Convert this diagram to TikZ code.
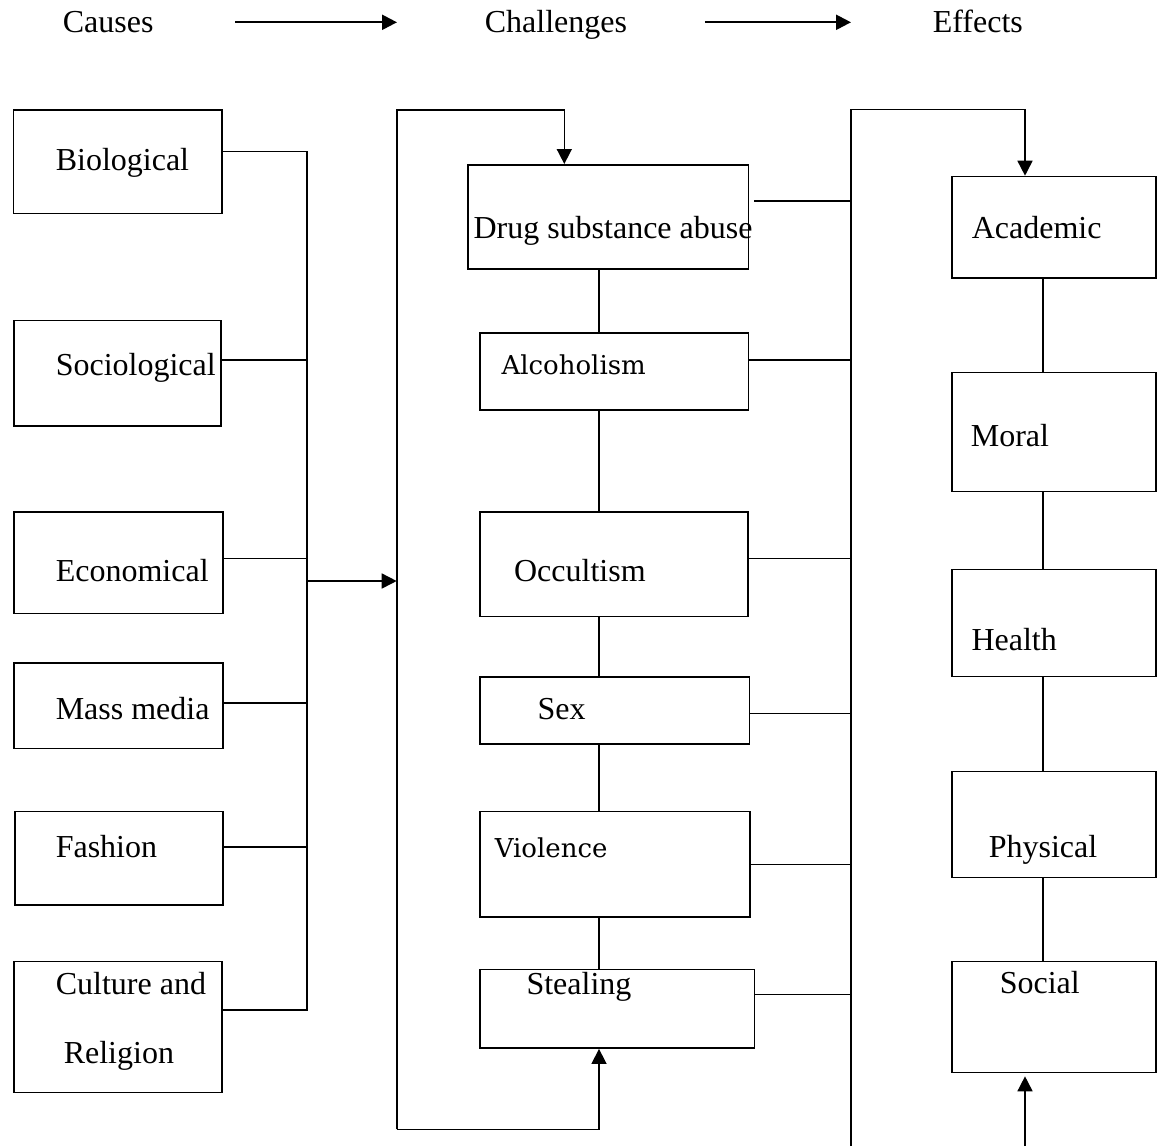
\documentclass[tikz,border=0pt]{standalone}
\usepackage{fontspec}
\setmainfont{Liberation Serif}
\newfontfamily\altserif{DejaVu Serif}
\usetikzlibrary{arrows.meta,positioning}

\begin{document}
\begin{tikzpicture}[x=1pt,y=-1pt,line width=1.6pt,
    box/.style={draw,rectangle,anchor=north west,inner sep=0pt},
    lbl/.style={anchor=base west,inner sep=0pt,font=\fontsize{32}{38}\selectfont},
    altlbl/.style={anchor=base west,inner sep=0pt,font=\altserif\fontsize{26}{31}\selectfont},
    arr/.style={-{Triangle[length=15pt,width=15pt]}}]
\useasboundingbox (0,0) rectangle (1158,1146);

% headings
\node[lbl] (causes) at (62,32) {Causes};
\node[lbl] (challenges) at (484,32) {Challenges};
\node[lbl] (effects) at (932,32) {Effects};
\draw[arr,line width=2.2pt,shorten <=81pt,shorten >=87pt] (causes.east |- 0,22.3) -- (challenges.west |- 0,22.3);
\draw[arr,line width=2.2pt,shorten <=77pt,shorten >=81pt] (challenges.east |- 0,22.3) -- (effects.west |- 0,22.3);

% causes
\node[box,minimum width=208.3pt,minimum height=103.7pt] (bio) at (12.7,109) {};
\node[lbl] (t_bio) at (55,170) {Biological};
\node[box,minimum width=207pt,minimum height=105.3pt] (socio) at (13,319.7) {};
\node[lbl] (t_socio) at (55,375) {Sociological};
\node[box,minimum width=209pt,minimum height=101.4pt] (econ) at (13.3,511.3) {};
\node[lbl] (t_econ) at (55,581.7) {Economical};
\node[box,minimum width=209pt,minimum height=85.7pt] (media) at (13.3,662) {};
\node[lbl] (t_media) at (55,719) {Mass media};
\node[box,minimum width=208pt,minimum height=93.6pt] (fashion) at (14,810.7) {};
\node[lbl] (t_fashion) at (55,857) {Fashion};
\node[box,minimum width=208pt,minimum height=131pt] (culture) at (13,960.7) {};
\node[lbl] (t_culture) at (55,994) {Culture and};
\node[lbl] (t_religion) at (63,1063) {Religion};

% challenges
\node[box,minimum width=280.7pt,minimum height=104.3pt] (drug) at (467,164) {};
\node[lbl] (t_drug) at (472.7,238) {Drug substance abuse};
\node[box,minimum width=268.7pt,minimum height=77pt] (alcohol) at (479,332.3) {};
\node[altlbl] (t_alcohol) at (500.7,374) {Alcoholism};
\node[box,minimum width=268.3pt,minimum height=104.4pt] (occult) at (479,511.3) {};
\node[lbl] (t_occult) at (513.3,581.7) {Occultism};
\node[box,minimum width=269.7pt,minimum height=67.3pt] (sex) at (479,676) {};
\node[lbl] (t_sex) at (536.7,719) {Sex};
\node[box,minimum width=270.3pt,minimum height=105.3pt] (violence) at (479,810.7) {};
\node[altlbl] (t_violence) at (494,857) {Violence};
\node[box,minimum width=274.7pt,minimum height=78.6pt] (stealing) at (479,968.7) {};
\node[lbl] (t_stealing) at (525.7,994) {Stealing};

% effects
\node[box,minimum width=204pt,minimum height=101.6pt] (academic) at (951,175.7) {};
\node[lbl] (t_academic) at (971,238) {Academic};
\node[box,minimum width=204pt,minimum height=119pt] (moral) at (951,371.7) {};
\node[lbl] (t_moral) at (970,446) {Moral};
\node[box,minimum width=204pt,minimum height=107pt] (health) at (951,568.7) {};
\node[lbl] (t_health) at (970.7,650) {Health};
\node[box,minimum width=204pt,minimum height=106pt] (physical) at (951,770.7) {};
\node[lbl] (t_physical) at (988,857) {Physical};
\node[box,minimum width=204pt,minimum height=111pt] (social) at (951,960.7) {};
\node[lbl] (t_social) at (999,993) {Social};

% left bus
\coordinate (lbus) at (306.7,0);
\draw (bio.east |- 0,151.3) -| (lbus |- 0,1010) -- (culture.east |- 0,1010);
\draw (socio.east |- 0,360) -- (lbus |- 0,360)
      (econ.east |- 0,558.3) -- (lbus |- 0,558.3)
      (media.east |- 0,703) -- (lbus |- 0,703)
      (fashion.east |- 0,846.7) -- (lbus |- 0,846.7);

% loop round the challenges
\coordinate (loop) at (396.7,0);
\draw[arr] (lbus |- 0,581) -- (loop |- 0,581);
\draw[arr] (loop |- 0,1129.3) -- (loop |- 0,110) -| (drug.north -| 564.3,0);
\draw[arr] (loop |- 0,1129.3) -| (stealing.south -| 599,0);
\coordinate (cx) at (599,0);
\draw (drug.south -| cx) -- (alcohol.north -| cx)
      (alcohol.south -| cx) -- (occult.north -| cx)
      (occult.south -| cx) -- (sex.north -| cx)
      (sex.south -| cx) -- (violence.north -| cx)
      (violence.south -| cx) -- (stealing.north -| cx);

% right bus
\coordinate (rbus) at (851,0);
\draw[arr] (rbus |- 0,1146) -- (rbus |- 0,109.3) -| (academic.north -| 1025,0);
\draw[shorten <=5pt] (drug.east |- 0,201) -- (rbus |- 0,201);
\draw (alcohol.east |- 0,360) -- (rbus |- 0,360)
      (occult.east |- 0,558.3) -- (rbus |- 0,558.3)
      (sex.east |- 0,713.3) -- (rbus |- 0,713.3)
      (violence.east |- 0,864.3) -- (rbus |- 0,864.3)
      (stealing.east |- 0,994.3) -- (rbus |- 0,994.3);

% effects chain
\coordinate (ex) at (1043,0);
\draw (academic.south -| ex) -- (moral.north -| ex)
      (moral.south -| ex) -- (health.north -| ex)
      (health.south -| ex) -- (physical.north -| ex)
      (physical.south -| ex) -- (social.north -| ex);
\draw[arr,shorten >=3pt] (1025,1146) -- (social.south -| 1025,0);
\end{tikzpicture}
\end{document}
